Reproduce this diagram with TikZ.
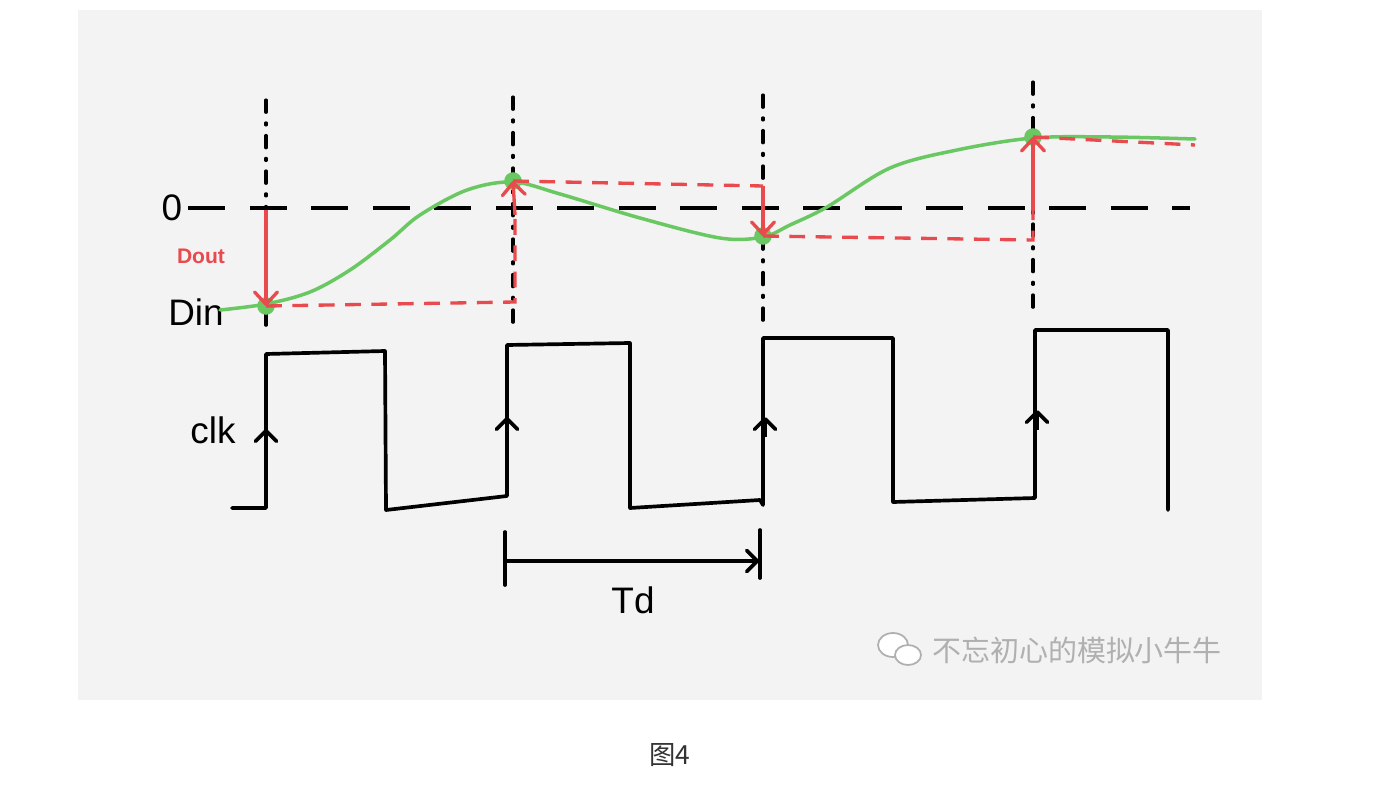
\documentclass[tikz,border=0pt]{standalone}
\usepackage{fontspec}
\setmainfont{Liberation Sans}
\newfontfamily\cjkfont{Noto Sans CJK SC}
\usetikzlibrary{arrows.meta, positioning}
\definecolor{papergray}{RGB}{243,243,243}
\definecolor{sigred}{RGB}{232,74,78}
\definecolor{siggreen}{RGB}{106,200,98}
\definecolor{markgray}{RGB}{176,176,176}
\definecolor{captiongray}{RGB}{51,51,51}

\begin{document}
\begin{tikzpicture}[x=0.02cm, y=-0.02cm,
  wave/.style={line width=2.1pt, line join=round, line cap=round},
  guide/.style={line width=1.8pt, line cap=round, dash pattern=on 7pt off 6pt on 1.2pt off 6pt},
  zero/.style={line width=2pt, dash pattern=on 21pt off 14pt},
  follow/.style={sigred, line width=1.9pt, dash pattern=on 9pt off 6pt},
  hold/.style={-{Straight Barb[length=7pt,width=13pt,round]}, sigred, line width=1.9pt},
  edge/.style={-{Straight Barb[length=6pt,width=12pt,round]}, line width=2.1pt},
  sample/.style={circle, fill=siggreen, inner sep=0pt, minimum size=10pt},
  lbl/.style={font=\fontsize{21}{24}\selectfont},
]
  \useasboundingbox (0,0) rectangle (1385,787);
  \fill[white] (0,0) rectangle (1385,787);
  \fill[papergray] (78,10) rectangle (1262,700);

  % Sampling instants
  \foreach \x/\top/\bot in {266/100/330, 513/97/330, 763/95/325, 1033/82/310}
    \draw[guide] (\x,\top) -- (\x,\bot);

  % Zero level and labels
  \node[lbl] (zlbl) at (172,208) {0};
  \draw[zero] (zlbl.east) -- (1190,208);
  \node[lbl] (din) at (196,312) {Din};
  \node[font=\bfseries\fontsize{12}{14}\selectfont, text=sigred] (dout) at (201,256) {Dout};
  \coordinate (z1) at (266,210);

  % Input signal
  \draw[siggreen, line width=2pt, line cap=round] plot[smooth, tension=0.55] coordinates {
    (220,310) (266,304) (310,292) (350,270) (390,240) (420,215) (467,190) (513,182)
    (560,194) (640,218) (720,238) (763,237) (790,225) (827,207) (890,168) (957,150)
    (1033,138) (1110,137) (1195,139)};
  \node[sample] (s1) at (266,306) {};
  \node[sample] (s2) at (513,181) {};
  \node[sample] (s3) at (763,236) {};
  \node[sample] (s4) at (1033,137) {};

  % Held output
  \coordinate (h1) at (515,302);
  \coordinate (h2) at (763,186);
  \coordinate (h3) at (1033,240);
  \coordinate (h4) at (1195,145);
  \draw[hold] (z1) -- (s1.center);
  \draw[follow] (s1.center) -- (h1) -- (515,210);
  \draw[hold] (515,215) -- (s2.center);
  \draw[follow] (s2.center) -- (h2);
  \draw[hold] (h2) -- (s3.center);
  \draw[follow] (s3.center) -- (h3) -- (1033,205);
  \draw[hold] (1033,210) -- (s4.center);
  \draw[follow] (s4.center) -- (h4);

  % Clock
  \node[lbl] (clk) at (213,430) {clk};
  \draw[wave] (232,508) -- (266,508) -- (266,354) -- (385,351) -- (386,510)
    -- (507,496) -- (507,345) -- (630,343) -- (630,508) -- (760,500)
    -- (763,505) -- (763,338) -- (893,338) -- (893,502) -- (1035,498)
    -- (1035,330) -- (1168,330) -- (1168,510);
  \foreach \x/\y in {266/437, 507/425, 765/425, 1037/418}
    \draw[edge] (\x,\y+12) -- (\x,\y-8);

  % Period
  \coordinate (ta) at (505,561);
  \coordinate (tb) at (759,561);
  \draw[wave] (505,532) -- (505,585);
  \draw[wave] (760,530) -- (760,578);
  \draw[edge] (ta) -- (tb);
  \node[lbl] (td) at (633,600) {Td};

  % Watermark
  \draw[markgray, fill=white, line width=1pt] (893,645) ellipse (15 and 12);
  \draw[markgray, fill=white, line width=1pt] (908,655) ellipse (13 and 10);
  \node[font=\cjkfont\fontsize{16.5}{18}\selectfont, text=markgray] (wm) at (1077,650) {不忘初心的模拟小牛牛};

  % Caption
  \node[font=\cjkfont\fontsize{15}{17}\selectfont, text=captiongray] (cap) at (670,755) {图4};
\end{tikzpicture}
\end{document}
